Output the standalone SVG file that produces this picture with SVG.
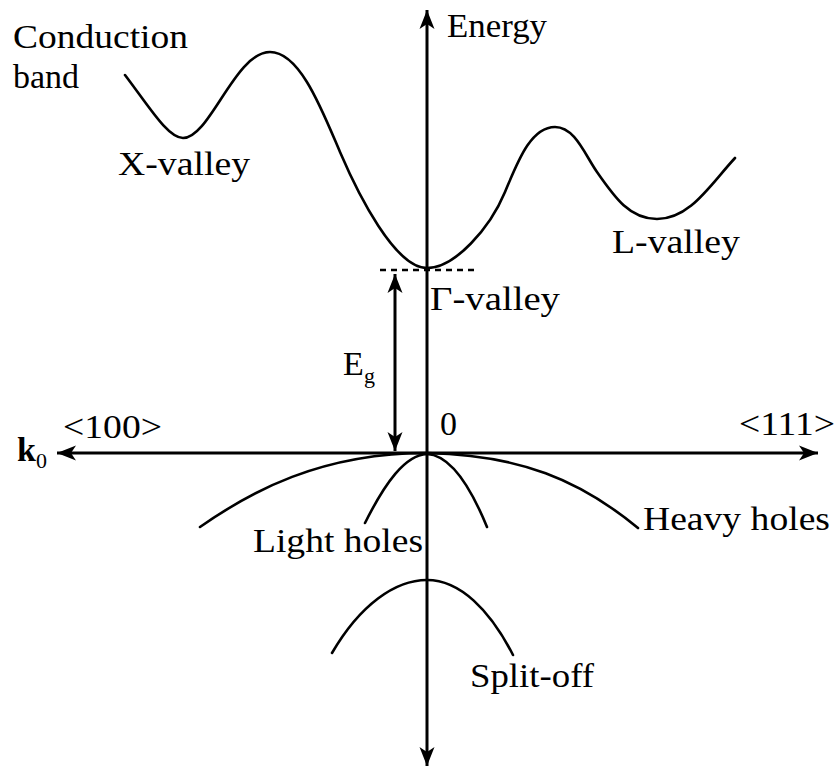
<svg xmlns="http://www.w3.org/2000/svg" width="840" height="770" viewBox="0 0 840 770">
  <style>
    .lbl { font-family: "Liberation Serif", "DejaVu Serif", "Noto Serif", serif; font-size: 34px; fill: #000; }
    .sub { font-family: "Liberation Serif", "DejaVu Serif", "Noto Serif", serif; font-size: 22px; fill: #000; }
    .axis { stroke: #000; stroke-width: 3; fill: none; }
    .curve { stroke: #000; stroke-width: 2.6; fill: none; stroke-linecap: round; stroke-linejoin: round; }
    .dash { stroke: #000; stroke-width: 2.5; stroke-dasharray: 6 5; fill: none; }
  </style>
  <defs>
    <marker id="arr" viewBox="-20 -10 22 20" refX="0" refY="0" markerWidth="22" markerHeight="20" markerUnits="userSpaceOnUse" orient="auto-start-reverse">
      <path d="M0,0 L-19,-7.5 L-14,0 L-19,7.5 Z" fill="#000"/>
    </marker>
  </defs>
  <rect width="840" height="770" fill="#fff"/>

  <g id="connectors">
    <line class="axis" x1="427" y1="762" x2="427" y2="10" marker-end="url(#arr)"/>
    <line class="axis" x1="427" y1="762" x2="427" y2="766" marker-end="url(#arr)"/>
    <line class="axis" x1="57" y1="453" x2="818" y2="453" marker-start="url(#arr)" marker-end="url(#arr)"/>
    <line class="axis" x1="395" y1="274" x2="395" y2="451" stroke-width="2.5" marker-start="url(#arr)" marker-end="url(#arr)"/>
    <line class="dash" x1="380" y1="270" x2="478" y2="270"/>
  </g>

  <g id="conduction-band">
    <path class="curve" d="M125,75 C150,108 168,138 183,138 C210,138 235,52 270,52 C300,52 322,110 340,152 C358,194 395,268 427,268 C455,268 490,228 505,192 C517,164 530,127 555,127 C575,127 585,155 597,172 C615,198 630,219 657,219 C690,219 710,185 735,158"/>
    <text class="lbl" x="13" y="48" textLength="175" lengthAdjust="spacingAndGlyphs">Conduction</text>
    <text class="lbl" x="13" y="88">band</text>
  </g>

  <g id="x-valley">
    <text class="lbl" x="118" y="175" textLength="132" lengthAdjust="spacingAndGlyphs">X-valley</text>
  </g>
  <g id="l-valley">
    <text class="lbl" x="612" y="253" textLength="128" lengthAdjust="spacingAndGlyphs">L-valley</text>
  </g>
  <g id="gamma-valley">
    <text class="lbl" x="430" y="310" textLength="130" lengthAdjust="spacingAndGlyphs">Γ-valley</text>
  </g>

  <g id="energy-label">
    <text class="lbl" x="447" y="37" textLength="100" lengthAdjust="spacingAndGlyphs">Energy</text>
  </g>

  <g id="eg-label">
    <text class="lbl" x="343" y="375">E</text>
    <text class="sub" x="364" y="383">g</text>
  </g>

  <g id="k-axis-labels">
    <text class="lbl" x="17" y="461" font-weight="bold">k</text>
    <text class="sub" x="36" y="468">0</text>
    <text class="lbl" x="63" y="438" textLength="99" lengthAdjust="spacingAndGlyphs">&lt;100&gt;</text>
    <text class="lbl" x="440" y="435">0</text>
    <text class="lbl" x="739" y="435" textLength="96" lengthAdjust="spacingAndGlyphs">&lt;111&gt;</text>
  </g>

  <g id="heavy-holes">
    <path class="curve" d="M200,527 C250,492 320,453 427,453 C520,455 580,480 638,528"/>
    <text class="lbl" x="643" y="530" textLength="187" lengthAdjust="spacingAndGlyphs">Heavy holes</text>
  </g>

  <g id="light-holes">
    <path class="curve" d="M365,523 C385,483 405,455 427,454 C449,455 469,483 487,527"/>
    <text class="lbl" x="253" y="552" textLength="170" lengthAdjust="spacingAndGlyphs">Light holes</text>
  </g>

  <g id="split-off">
    <path class="curve" d="M332,653 C360,605 395,580 427,580 C460,580 490,610 513,655"/>
    <text class="lbl" x="470" y="687" textLength="124" lengthAdjust="spacingAndGlyphs">Split-off</text>
  </g>
</svg>
